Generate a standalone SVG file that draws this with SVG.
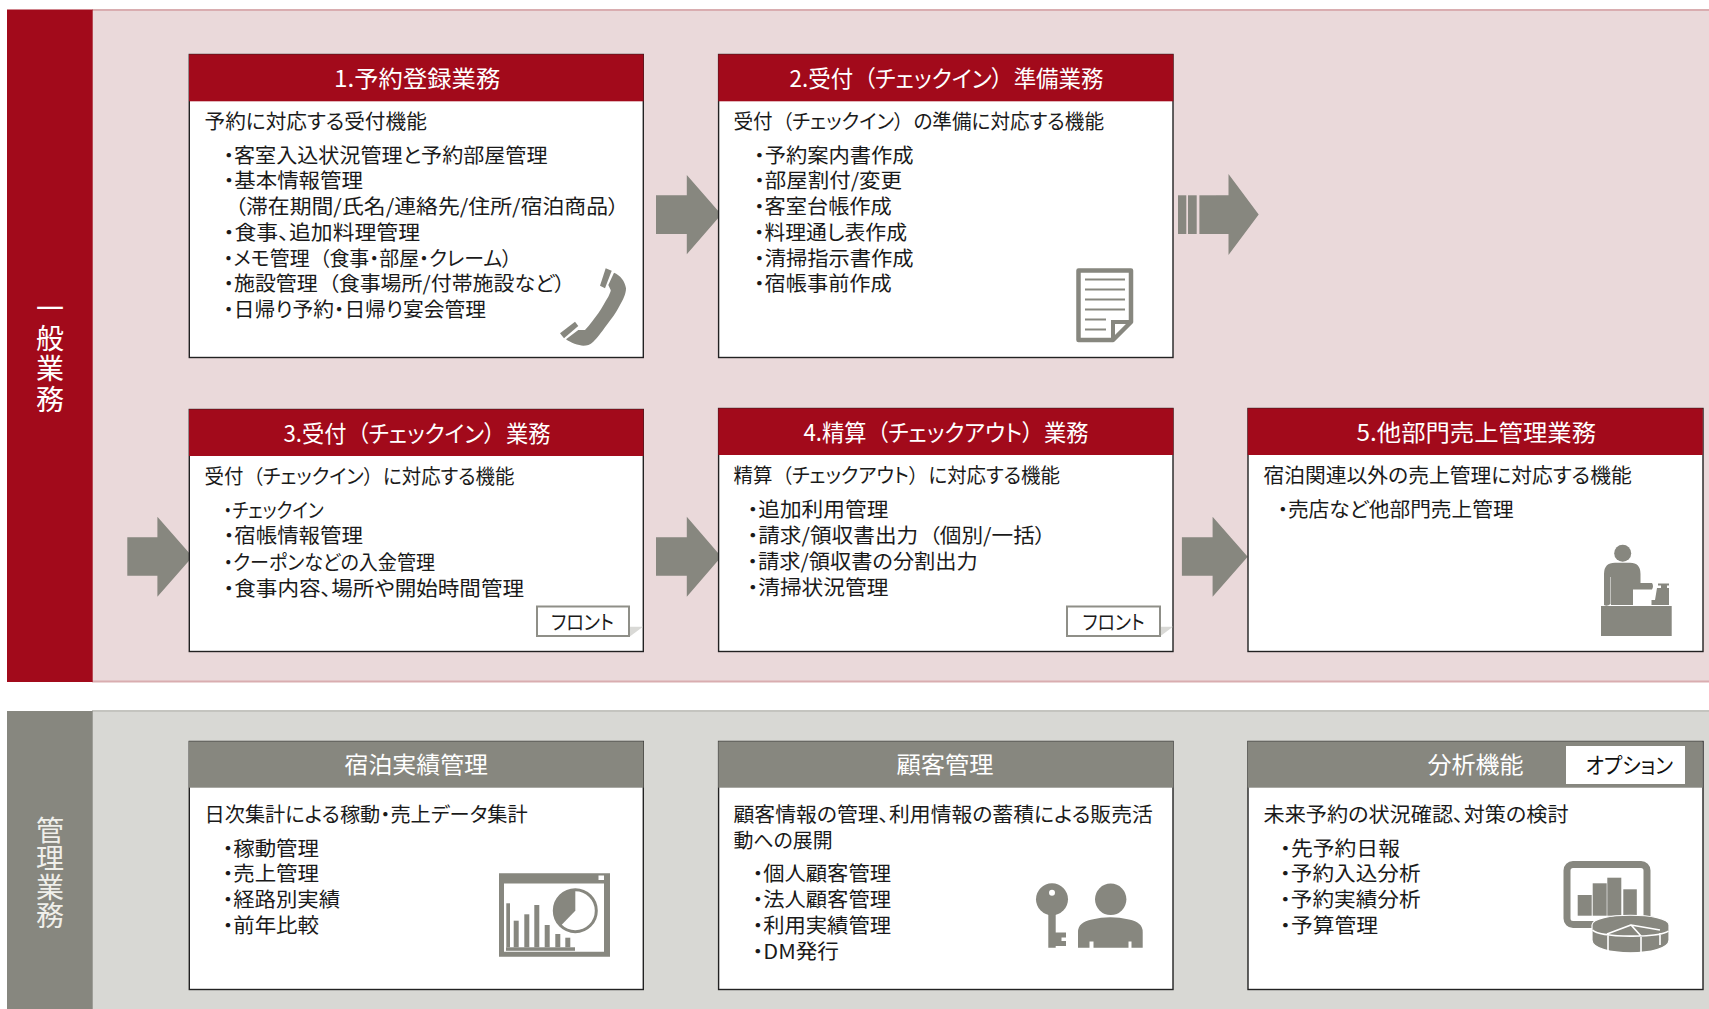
<svg xmlns="http://www.w3.org/2000/svg" width="1709" height="1009" viewBox="0 0 1709 1009">
<style>
text{font-family:"Noto Sans CJK JP","Noto Sans",sans-serif;font-feature-settings:"palt";}
.b{font-size:20px;fill:#1a1a1a}
.t{font-size:23px;fill:#fff}
.v{font-size:28px;fill:#fff;writing-mode:vertical-rl;text-anchor:start}
.card{fill:#fff;stroke:#222;stroke-width:1.4}
.rh{fill:#a20a1b}
.gh{fill:#87877f}
.ic{fill:#87877f}
.ar{fill:#87877f}
.fr{fill:#fff;stroke:#8f8f88;stroke-width:2}
.sh{fill:#d9d9d6}
.wl{fill:none;stroke:#fff;stroke-width:1.6}
</style>
<rect width="1709" height="1009" fill="#fff"/>
<g id="band-general">
<rect x="7" y="10" width="1702" height="672" fill="#ead9da"/>
<rect x="92" y="9" width="1617" height="2" fill="#d9adb0"/>
<rect x="92" y="680.500" width="1617" height="2" fill="#d9adb0"/>
<rect x="7" y="9.500" width="85.700" height="672.500" fill="#a20a1b"/>
<text class="v" x="50" y="294" style="letter-spacing:2.400px">一般業務</text>
</g>
<g id="band-admin">
<rect x="7" y="711" width="1702" height="298" fill="#d8d8d4"/>
<rect x="92" y="710" width="1617" height="2" fill="#c4c4bf"/>
<rect x="7" y="711" width="85.700" height="298" fill="#87877f"/>
<text class="v" x="50" y="816" style="fill:#efefea;letter-spacing:0.500px">管理業務</text>
</g>
<g id="connectors">
<polygon class="ar" points="656,195.300 686.800,195.300 686.800,175 721.300,214.500 686.800,254.300 686.800,234 656,234"/>
<g id="arrow-dashed">
<rect class="ar" x="1178" y="195.300" width="8.300" height="38.700"/>
<rect class="ar" x="1188" y="195.300" width="8.700" height="38.700"/>
<rect class="ar" x="1199.400" y="195.300" width="16.600" height="38.700"/>
<polygon class="ar" points="1216,195.300 1228.500,195.300 1228.500,174 1258.700,214.500 1228.500,255 1228.500,234 1216,234"/>
</g>
<polygon class="ar" points="127.300,537.300 157.400,537.300 157.400,516.700 192.500,556.700 157.400,596.700 157.400,575.700 127.300,575.700"/>
<polygon class="ar" points="656,537.300 686.800,537.300 686.800,516.700 721.300,556.700 686.800,596.700 686.800,575.700 656,575.700"/>
<polygon class="ar" points="1181.900,537.300 1212.600,537.300 1212.600,516.700 1247.700,556.700 1212.600,596.700 1212.600,575.700 1181.900,575.700"/>
</g>
<g id="node-1">
<rect class="card" x="189.300" y="54.500" width="454" height="303"/>
<rect class="rh" x="189" y="54.300" width="454.500" height="47"/>
<text class="t" x="334" y="87" textLength="166.300" lengthAdjust="spacingAndGlyphs">1.予約登録業務</text>
<text class="b" x="204.500" y="129.300" textLength="222.300" lengthAdjust="spacingAndGlyphs">予約に対応する受付機能</text>
<text class="b" x="223.500" y="163.300" textLength="324" lengthAdjust="spacingAndGlyphs">・客室入込状況管理と予約部屋管理</text>
<text class="b" x="223.500" y="188.300" textLength="139.500" lengthAdjust="spacingAndGlyphs">・基本情報管理</text>
<text class="b" x="235" y="214" textLength="384" lengthAdjust="spacingAndGlyphs">（滞在期間/氏名/連絡先/住所/宿泊商品）</text>
<text class="b" x="223.500" y="240" textLength="196.500" lengthAdjust="spacingAndGlyphs">・食事、追加料理管理</text>
<text class="b" x="223.500" y="265.600" textLength="288.500" lengthAdjust="spacingAndGlyphs" dx="0 0 0 0 0 10">・メモ管理（食事・部屋・クレーム）</text>
<text class="b" x="223.500" y="291.300" textLength="341.500" lengthAdjust="spacingAndGlyphs" dx="0 0 0 0 0 10">・施設管理（食事場所/付帯施設など）</text>
<text class="b" x="223.500" y="316.600" textLength="262.500" lengthAdjust="spacingAndGlyphs">・日帰り予約・日帰り宴会管理</text>
<g id="icon-phone">
<path class="ic" d="M614,272.700 C620,275 625,281 626,288.300 C626,294 623,300 620,305 C616,313 612,318 606.700,325 C601,333 597,338 593.300,341.700 C590,345 587,345.700 583.300,345.700 C579,345.700 570,342.500 566,339.300 L578.300,330 L585,330 C590,325 594,319 598.300,313.300 C602,308 605,302 608.300,296.700 C610,293 611,291 610.700,290 L608.300,285 Z"/>
<polygon class="ic" points="605.700,268.300 611.700,270.700 605,288.300 600,285.700"/>
<polygon class="ic" points="575,321.700 578.300,326 564,338.300 560,333.300"/>
</g>
</g>
<g id="node-2">
<rect class="card" x="718.600" y="54.500" width="454.400" height="303"/>
<rect class="rh" x="718.300" y="54.300" width="455" height="47"/>
<text class="t" x="789.500" y="87" textLength="314" lengthAdjust="spacingAndGlyphs" dx="0 0 0 0 11 0 0 0 0 0 0 0 11">2.受付（チェックイン）準備業務</text>
<text class="b" x="733.500" y="129.300" textLength="370.500" lengthAdjust="spacingAndGlyphs" dx="0 0 10 0 0 0 0 0 0 0 10">受付（チェックイン）の準備に対応する機能</text>
<text class="b" x="754" y="163.300" textLength="159.600" lengthAdjust="spacingAndGlyphs">・予約案内書作成</text>
<text class="b" x="754" y="188.300" textLength="148" lengthAdjust="spacingAndGlyphs">・部屋割付/変更</text>
<text class="b" x="754" y="214" textLength="137.700" lengthAdjust="spacingAndGlyphs">・客室台帳作成</text>
<text class="b" x="754" y="240" textLength="153" lengthAdjust="spacingAndGlyphs">・料理通し表作成</text>
<text class="b" x="754" y="265.600" textLength="159.600" lengthAdjust="spacingAndGlyphs">・清掃指示書作成</text>
<text class="b" x="754" y="291.300" textLength="137.700" lengthAdjust="spacingAndGlyphs">・宿帳事前作成</text>
<g id="icon-doc">
<path d="M1078.500,270.500 H1131 V322 L1113,340 H1078.500 Z" fill="#fff" stroke="#87877f" stroke-width="4.500" stroke-linejoin="round"/>
<path d="M1113,339 V322 H1131" fill="none" stroke="#87877f" stroke-width="4"/>
<g stroke="#87877f" stroke-width="2"><line x1="1085" y1="279.500" x2="1125" y2="279.500"/><line x1="1085" y1="289.500" x2="1125" y2="289.500"/><line x1="1085" y1="299.500" x2="1125" y2="299.500"/><line x1="1085" y1="309.500" x2="1125" y2="309.500"/><line x1="1085" y1="319.500" x2="1106" y2="319.500"/><line x1="1085" y1="329.500" x2="1106" y2="329.500"/></g>
</g>
</g>
<g id="node-3">
<rect class="card" x="189.300" y="409.500" width="454" height="242"/>
<rect class="rh" x="189" y="409.300" width="454.500" height="46.700"/>
<text class="t" x="283.500" y="442.200" textLength="267" lengthAdjust="spacingAndGlyphs" dx="0 0 0 0 11 0 0 0 0 0 0 0 11">3.受付（チェックイン）業務</text>
<text class="b" x="204.500" y="484" textLength="310" lengthAdjust="spacingAndGlyphs" dx="0 0 10 0 0 0 0 0 0 0 10">受付（チェックイン）に対応する機能</text>
<text class="b" x="223.500" y="518.300" textLength="100" lengthAdjust="spacingAndGlyphs">・チェックイン</text>
<text class="b" x="223.500" y="543.300" textLength="139.500" lengthAdjust="spacingAndGlyphs">・宿帳情報管理</text>
<text class="b" x="223.500" y="569.600" textLength="211.500" lengthAdjust="spacingAndGlyphs">・クーポンなどの入金管理</text>
<text class="b" x="223.500" y="595.600" textLength="300.500" lengthAdjust="spacingAndGlyphs">・食事内容、場所や開始時間管理</text>
<polygon class="sh" points="629.500,626.700 643,626.700 629.500,636.700"/>
<rect class="fr" x="537" y="606.500" width="92" height="29.500"/>
<text class="b" x="551" y="629.500" textLength="63" lengthAdjust="spacingAndGlyphs">フロント</text>
</g>
<g id="node-4">
<rect class="card" x="718.600" y="408.500" width="454.400" height="243"/>
<rect class="rh" x="718.300" y="408.300" width="455" height="46.700"/>
<text class="t" x="803.500" y="441.200" textLength="285" lengthAdjust="spacingAndGlyphs" dx="0 0 0 0 11 0 0 0 0 0 0 0 0 11">4.精算（チェックアウト）業務</text>
<text class="b" x="733.500" y="483" textLength="326.500" lengthAdjust="spacingAndGlyphs" dx="0 0 10 0 0 0 0 0 0 0 0 10">精算（チェックアウト）に対応する機能</text>
<text class="b" x="747.400" y="517.300" textLength="141" lengthAdjust="spacingAndGlyphs">・追加利用管理</text>
<text class="b" x="747.400" y="542.600" textLength="298.300" lengthAdjust="spacingAndGlyphs" dx="0 0 0 0 0 0 0 0 0 10">・請求/領収書出力（個別/一括）</text>
<text class="b" x="747.400" y="568.600" textLength="230.400" lengthAdjust="spacingAndGlyphs">・請求/領収書の分割出力</text>
<text class="b" x="747.400" y="594.600" textLength="141" lengthAdjust="spacingAndGlyphs">・清掃状況管理</text>
<polygon class="sh" points="1159.500,626.700 1173,626.700 1159.500,636.700"/>
<rect class="fr" x="1067" y="606.500" width="93" height="29.500"/>
<text class="b" x="1082.600" y="629.500" textLength="62" lengthAdjust="spacingAndGlyphs">フロント</text>
</g>
<g id="node-5">
<rect class="card" x="1248" y="408.500" width="455" height="243"/>
<rect class="rh" x="1247.700" y="408.300" width="455" height="46.700"/>
<text class="t" x="1356.500" y="441.200" textLength="239.500" lengthAdjust="spacingAndGlyphs">5.他部門売上管理業務</text>
<text class="b" x="1263.500" y="483" textLength="368.200" lengthAdjust="spacingAndGlyphs">宿泊関連以外の売上管理に対応する機能</text>
<text class="b" x="1277.600" y="517.300" textLength="236" lengthAdjust="spacingAndGlyphs">・売店など他部門売上管理</text>
<g id="icon-cashier">
<circle class="ic" cx="1622.700" cy="553.300" r="8.500"/>
<path class="ic" d="M1604,605 V574 Q1604,562.700 1615,562.700 H1630 Q1640.500,562.700 1640.500,574 V583 H1652 Q1654,586 1652,589.500 H1633 V605 H1611 V577 H1610.500 V604 Q1607,607 1604,605 Z"/>
<rect class="ic" x="1601" y="606" width="70.700" height="30"/>
<path class="ic" d="M1658,583.500 H1669 V585.500 H1667 V588 H1669 V605 H1651.500 V600 H1655 L1657,588 H1661 V585.500 H1658 Z"/>
</g>
</g>
<g id="node-stay">
<rect class="card" x="189.300" y="741.500" width="454" height="248"/>
<rect class="gh" x="189" y="741.300" width="454.500" height="46.400"/>
<text class="t" x="344.500" y="773.200" textLength="143.500" lengthAdjust="spacingAndGlyphs">宿泊実績管理</text>
<text class="b" x="204.500" y="822.300" textLength="323.200" lengthAdjust="spacingAndGlyphs">日次集計による稼動・売上データ集計</text>
<text class="b" x="222.500" y="856.300" textLength="96.500" lengthAdjust="spacingAndGlyphs">・稼動管理</text>
<text class="b" x="222.500" y="881.300" textLength="96.500" lengthAdjust="spacingAndGlyphs">・売上管理</text>
<text class="b" x="222.500" y="907.300" textLength="117.500" lengthAdjust="spacingAndGlyphs">・経路別実績</text>
<text class="b" x="222.500" y="932.600" textLength="96.500" lengthAdjust="spacingAndGlyphs">・前年比較</text>
<g id="icon-report">
<path class="ic" fill-rule="evenodd" d="M499,873.300 H610 V956.700 H499 Z M504,883.500 V951.700 H604 V883.500 Z"/>
<rect x="598.500" y="875.500" width="5.500" height="4.500" fill="#fff"/>
<rect class="ic" x="506" y="947.300" width="69" height="3.500"/>
<rect class="ic" x="506.300" y="903.300" width="3.700" height="44"/>
<rect class="ic" x="513.700" y="920.700" width="5" height="26.600"/>
<rect class="ic" x="524.300" y="914.300" width="5" height="33"/>
<rect class="ic" x="534.300" y="905" width="5" height="42.300"/>
<rect class="ic" x="544.700" y="925" width="5" height="22.300"/>
<rect class="ic" x="555.300" y="934" width="5" height="13.300"/>
<rect class="ic" x="565.300" y="937.700" width="5" height="9.600"/>
<circle cx="575.300" cy="910.700" r="21" fill="none" stroke="#87877f" stroke-width="3"/>
<path class="ic" d="M575.300,890 V910.700 L561,925.500 A20.500,20.500 0 0 1 575.300,890 Z"/>
</g>
</g>
<g id="node-customer">
<rect class="card" x="718.600" y="741.500" width="454.400" height="248"/>
<rect class="gh" x="718.300" y="741.300" width="455" height="46.400"/>
<text class="t" x="896.600" y="773.200" textLength="97" lengthAdjust="spacingAndGlyphs">顧客管理</text>
<text class="b" x="733.500" y="822.300" textLength="419.300" lengthAdjust="spacingAndGlyphs">顧客情報の管理、利用情報の蓄積による販売活</text>
<text class="b" x="733.500" y="848.300" textLength="99.200" lengthAdjust="spacingAndGlyphs">動への展開</text>
<text class="b" x="752.500" y="881.300" textLength="138.500" lengthAdjust="spacingAndGlyphs">・個人顧客管理</text>
<text class="b" x="752.500" y="907.300" textLength="138.500" lengthAdjust="spacingAndGlyphs">・法人顧客管理</text>
<text class="b" x="752.500" y="932.600" textLength="138.500" lengthAdjust="spacingAndGlyphs">・利用実績管理</text>
<text class="b" x="752.500" y="959" textLength="86.500" lengthAdjust="spacingAndGlyphs">・DM発行</text>
<g id="icon-key-person">
<circle class="ic" cx="1052" cy="899.300" r="16"/>
<circle cx="1052" cy="892.700" r="3" fill="#fff"/>
<path class="ic" d="M1048.300,910 H1055.700 V932.500 H1066 V937.500 H1061.500 V941 H1066 V946 H1055.700 V947.700 H1048.300 Z"/>
<circle class="ic" cx="1110.700" cy="899.300" r="15.700"/>
<path class="ic" d="M1078,947.700 V932 Q1078,922 1092,919.500 Q1110,915 1129,919.500 Q1142.700,922 1142.700,932 V947.700 H1131.500 V941.500 H1128.500 V947.700 H1093.500 V941.500 H1089.500 V947.700 Z"/>
</g>
</g>
<g id="node-analysis">
<rect class="card" x="1248" y="741.500" width="455" height="248"/>
<rect class="gh" x="1247.700" y="741.300" width="455" height="46.400"/>
<text class="t" x="1427.600" y="773.200" textLength="96" lengthAdjust="spacingAndGlyphs">分析機能</text>
<rect x="1566" y="746" width="119" height="38" fill="#fff"/>
<text class="t" style="fill:#111;font-size:22px" x="1585.500" y="773" textLength="87.500" lengthAdjust="spacingAndGlyphs">オプション</text>
<text class="b" x="1263.500" y="822.300" textLength="305.100" lengthAdjust="spacingAndGlyphs">未来予約の状況確認、対策の検討</text>
<text class="b" x="1280" y="856.300" textLength="120" lengthAdjust="spacingAndGlyphs">・先予約日報</text>
<text class="b" x="1280" y="881.300" textLength="140.500" lengthAdjust="spacingAndGlyphs">・予約入込分析</text>
<text class="b" x="1280" y="907.300" textLength="140.500" lengthAdjust="spacingAndGlyphs">・予約実績分析</text>
<text class="b" x="1280" y="932.600" textLength="98" lengthAdjust="spacingAndGlyphs">・予算管理</text>
<g id="icon-chart-pie">
<rect x="1567" y="864.500" width="80" height="60" rx="6" fill="none" stroke="#87877f" stroke-width="7"/>
<rect class="ic" x="1577.700" y="895" width="14" height="20.700"/>
<rect class="ic" x="1592.700" y="883.300" width="14" height="32.400"/>
<rect class="ic" x="1607.300" y="877.700" width="14" height="38"/>
<rect class="ic" x="1623.300" y="889.300" width="13.500" height="26.400"/>
<path class="ic" stroke="#fff" stroke-width="1.200" d="M1592,925 C1592,912 1669,912 1669,925 V940 C1669,957 1592,957 1592,940 Z"/>
<path class="wl" d="M1592.500,930 C1600,938 1660,938 1668.500,931 M1607,934 L1631,925 L1641,936 M1631,925 L1660,930 M1608,935 V951 M1641,937 V952 M1660,933 V945"/>
</g>
</g>
</svg>
